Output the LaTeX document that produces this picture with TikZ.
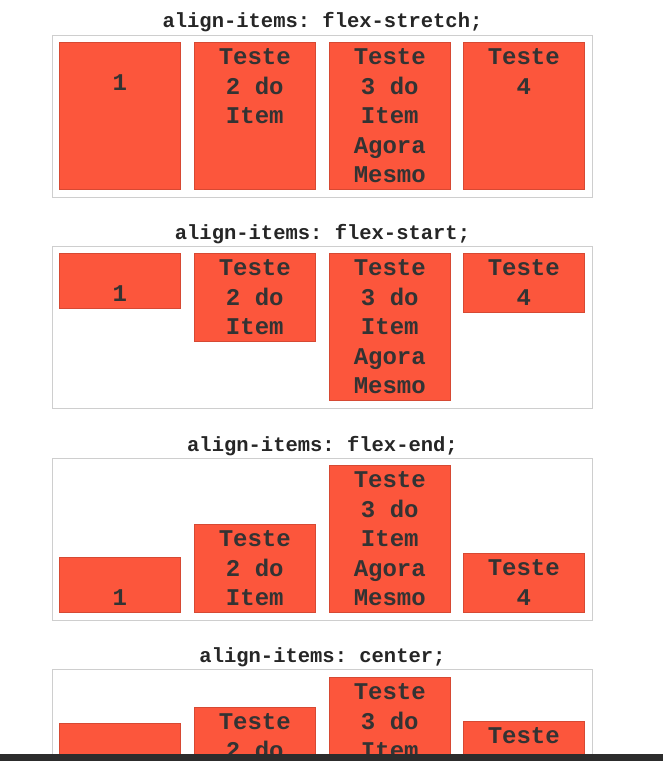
\documentclass[tikz,border=0pt]{standalone}
\usepackage{fontspec}
\setmonofont{Liberation Mono}
\usetikzlibrary{positioning}

\definecolor{itemred}{RGB}{252,86,60}
\definecolor{framegray}{RGB}{206,206,206}
\definecolor{bargray}{RGB}{44,44,44}

\tikzstyle{flex_frame} = [
    rectangle,
    draw=framegray,
    fill=white,
    line width=1pt,
    minimum width=540pt,
    minimum height=162pt,
    inner sep=0pt,
    anchor=north west
]
\tikzstyle{flex_item} = [
    rectangle,
    draw=itemred!85!black,
    fill=itemred,
    line width=0.6pt,
    minimum width=121pt,
    inner sep=0pt,
    anchor=north west
]
\tikzstyle{item_text} = [
    font=\ttfamily\bfseries\fontsize{24}{29.5}\selectfont,
    text=black!80,
    align=center,
    inner sep=0pt,
    anchor=north
]
\tikzstyle{caption} = [
    font=\ttfamily\bfseries\fontsize{20.5}{24}\selectfont,
    text=black!85,
    inner sep=0pt,
    anchor=base
]

% item: name, x, top, height, text drop, text
\newcommand{\flexitem}[6]{
    \node [flex_item, minimum height=#4pt] (#1) at (#2,#3) {};
    \node [item_text] (#1txt) at ([yshift=-#5pt]#1.north) {#6};
}

\begin{document}
\begin{tikzpicture}[x=1pt, y=-1pt]
\useasboundingbox (0,0) rectangle (663,761);
\clip (0,0) rectangle (663,761);

% stretch
\node [flex_frame] (stretch) at (52,35) {};
\node [caption] (stretchcap) at ([yshift=7.5pt]stretch.north) {align-items: flex-stretch;};
\flexitem{st1}{59}{42}{147}{32}{1}
\flexitem{st2}{194}{42}{147}{6.5}{Teste\\2 do\\Item}
\flexitem{st3}{329}{42}{147}{6.5}{Teste\\3 do\\Item\\Agora\\Mesmo}
\flexitem{st4}{463}{42}{147}{6.5}{Teste\\4}

% start
\node [flex_frame] (start) at (52,246) {};
\node [caption] (startcap) at ([yshift=6.5pt]start.north) {align-items: flex-start;};
\flexitem{sa1}{59}{253}{55}{32}{1}
\flexitem{sa2}{194}{253}{88}{6.5}{Teste\\2 do\\Item}
\flexitem{sa3}{329}{253}{147}{6.5}{Teste\\3 do\\Item\\Agora\\Mesmo}
\flexitem{sa4}{463}{253}{59}{6.5}{Teste\\4}

% end
\node [flex_frame] (end) at (52,458) {};
\node [caption] (endcap) at ([yshift=6.5pt]end.north) {align-items: flex-end;};
\flexitem{en1}{59}{557}{55}{32}{1}
\flexitem{en2}{194}{524}{88}{6.5}{Teste\\2 do\\Item}
\flexitem{en3}{329}{465}{147}{6.5}{Teste\\3 do\\Item\\Agora\\Mesmo}
\flexitem{en4}{463}{553}{59}{6.5}{Teste\\4}

% center
\node [flex_frame] (center) at (52,669) {};
\node [caption] (centercap) at ([yshift=6.5pt]center.north) {align-items: center;};
\flexitem{ce1}{59}{723}{55}{32}{1}
\flexitem{ce2}{194}{706.5}{88}{6.5}{Teste\\2 do\\Item}
\flexitem{ce3}{329}{677}{147}{6.5}{Teste\\3 do\\Item\\Agora\\Mesmo}
\flexitem{ce4}{463}{721}{59}{6.5}{Teste\\4}

% window bar
\fill [bargray] (0,754) rectangle (663,761);
\end{tikzpicture}
\end{document}
